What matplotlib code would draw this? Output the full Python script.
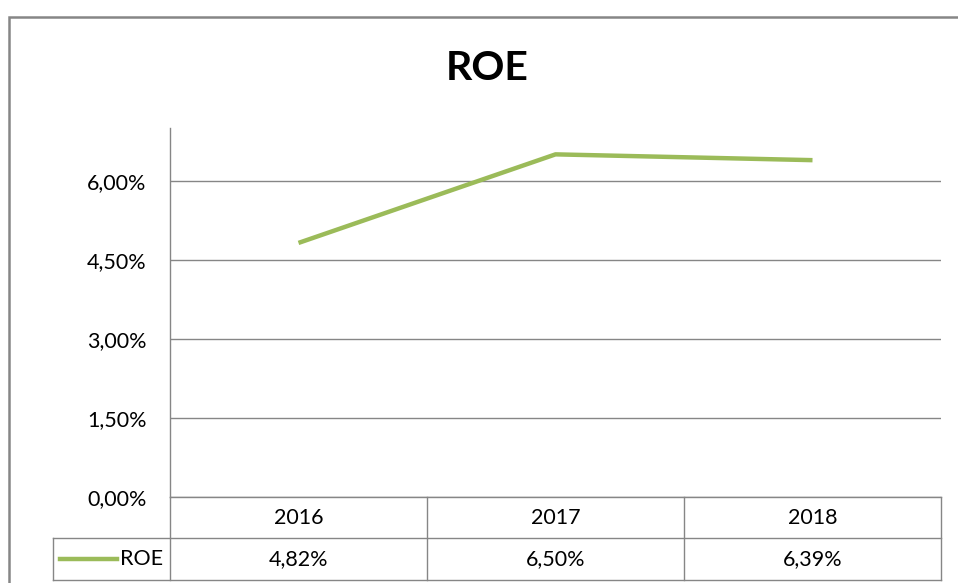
import matplotlib.pyplot as plt
from matplotlib.lines import Line2D

# data
years = ['2016', '2017', '2018']
roe = [4.82, 6.50, 6.39]
yticks = [0.0, 1.5, 3.0, 4.5, 6.0]

W, H = 958, 583
green = '#9BBB59'
gray = '#868686'
fs = 15.5
plt.rcParams['font.family'] = ['Lato', 'DejaVu Sans']

fig = plt.figure(figsize=(W / 100, H / 100), dpi=100)


def fx(px):
    return px / W


def fy(py):
    return 1 - py / H


# outer chart border (left and top visible)
fig.add_artist(Line2D([fx(9), fx(9), fx(958)], [fy(583), fy(17), fy(17)],
                      color=gray, lw=1.8, solid_joinstyle='miter'))

fig.text(fx(487), fy(68), 'ROE', ha='center', va='center',
         fontsize=29.5, fontweight='bold')

left, right, top, bottom = 170, 941, 128, 497
ax = fig.add_axes([fx(left), fy(bottom), fx(right - left), (bottom - top) / H])
x = list(range(len(years)))
ax.plot(x, roe, color=green, lw=3.2, solid_capstyle='butt')
ax.set_xlim(-0.5, len(years) - 0.5)
ax.set_ylim(0, 7.0)
ax.set_yticks(yticks)
ax.set_yticklabels([f'{t:.2f}%'.replace('.', ',') for t in yticks], fontsize=fs)
ax.tick_params(axis='y', length=0, pad=17)
ax.set_xticks([])
ax.grid(axis='y', color=gray, lw=1)
ax.set_axisbelow(True)
for s in ['top', 'right', 'bottom']:
    ax.spines[s].set_visible(False)
ax.spines['left'].set_color(gray)
ax.spines['left'].set_linewidth(1)

# data table below the plot
row1, row2, row3 = 497, 538, 580
colx = [left + i * (right - left) / len(years) for i in range(len(years) + 1)]
leg_left = 53


def hline(x0, x1, y):
    fig.add_artist(Line2D([fx(x0), fx(x1)], [fy(y), fy(y)], color=gray, lw=1))


def vline(xp, y0, y1):
    fig.add_artist(Line2D([fx(xp), fx(xp)], [fy(y0), fy(y1)], color=gray, lw=1))


hline(left, right, row1)
hline(leg_left, right, row2)
hline(leg_left, right, row3)
for cx in colx:
    vline(cx, row1, row3)
vline(leg_left, row2, row3)

for i, yr in enumerate(years):
    cx = (colx[i] + colx[i + 1]) / 2
    fig.text(fx(cx), fy((row1 + row2) / 2), yr, ha='center', va='center', fontsize=fs)
    fig.text(fx(cx), fy((row2 + row3) / 2), f'{roe[i]:.2f}%'.replace('.', ','),
             ha='center', va='center', fontsize=fs)

# legend key in table
fig.add_artist(Line2D([fx(60), fx(117)], [fy(559), fy(559)], color=green, lw=3.2))
fig.text(fx(120), fy(559), 'ROE', ha='left', va='center', fontsize=fs)

fig.savefig('out.png', dpi=100)
